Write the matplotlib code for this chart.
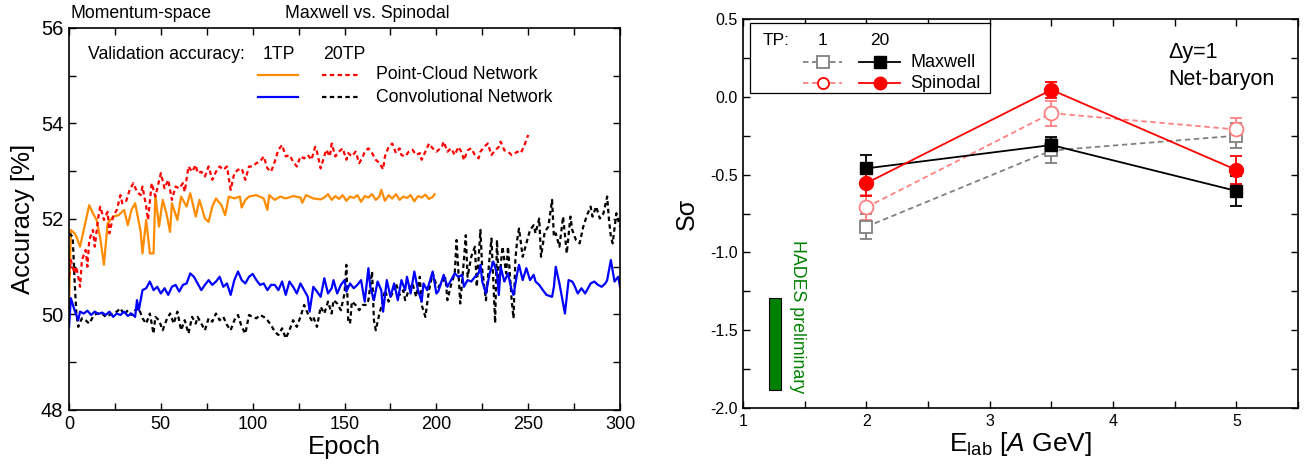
import matplotlib
matplotlib.use("Agg")
import matplotlib.pyplot as plt
from matplotlib.patches import Rectangle
from matplotlib.ticker import MultipleLocator, FormatStrFormatter

plt.rcParams["font.family"] = ["Liberation Sans", "DejaVu Sans"]
plt.rcParams["mathtext.fontset"] = "custom"
plt.rcParams["mathtext.rm"] = "Liberation Sans"
plt.rcParams["mathtext.it"] = "Liberation Sans:italic"
plt.rcParams["axes.unicode_minus"] = False

# ---- left panel: validation accuracy vs epoch, (epoch, accuracy %) ----
pc_1tp = [
    (0, 50.20), (1, 51.77), (3, 51.70), (4, 51.63), (6, 51.42), (8, 51.77),
    (11, 52.29), (13, 52.12), (15, 51.98), (17, 51.60), (19, 51.04), (21, 51.91),
    (24, 52.05), (27, 52.08), (30, 52.19), (32, 51.87), (34, 52.19), (36, 52.33),
    (39, 51.73), (40, 51.28), (42, 51.98), (44, 51.28), (46, 51.28), (47, 52.50),
    (49, 51.84), (51, 52.40), (53, 52.12), (55, 51.73), (56, 52.33), (59, 51.98),
    (61, 52.47), (64, 52.26), (66, 52.54), (69, 52.05), (71, 52.40), (74, 52.01),
    (76, 51.94), (78, 52.26), (80, 52.43), (83, 52.29), (85, 52.08), (87, 52.47),
    (90, 52.43), (93, 52.47), (94, 52.24), (96, 52.40), (98, 52.47), (102, 52.50),
    (106, 52.43), (108, 52.19), (109, 52.50), (112, 52.40), (115, 52.47),
    (118, 52.43), (122, 52.48), (126, 52.45), (127, 52.34), (129, 52.50),
    (133, 52.43), (137, 52.41), (139, 52.45), (141, 52.52), (143, 52.40),
    (145, 52.48), (147, 52.42), (149, 52.50), (151, 52.38), (153, 52.47),
    (155, 52.44), (157, 52.50), (159, 52.36), (161, 52.48), (163, 52.45),
    (165, 52.52), (167, 52.40), (169, 52.47), (170, 52.61), (172, 52.38),
    (174, 52.50), (176, 52.43), (178, 52.52), (180, 52.40), (182, 52.47),
    (184, 52.44), (186, 52.50), (188, 52.37), (190, 52.48), (192, 52.45),
    (194, 52.51), (196, 52.42), (198, 52.46), (199, 52.52),
]

pc_20tp = [
    (0, 50.80), (1, 51.14), (3, 50.86), (4, 51.00), (6, 50.58), (7, 51.14),
    (9, 51.35), (10, 51.00), (11, 51.56), (13, 51.77), (14, 51.42), (16, 52.05),
    (17, 52.26), (19, 51.98), (21, 52.15), (22, 51.70), (24, 52.05), (26, 52.19),
    (28, 52.50), (29, 52.33), (31, 52.36), (33, 52.61), (35, 52.75), (37, 52.57),
    (39, 52.50), (40, 52.68), (42, 52.26), (43, 51.98), (45, 52.75), (47, 52.47),
    (50, 52.96), (52, 52.64), (54, 52.82), (56, 52.40), (58, 52.68), (60, 52.64),
    (62, 52.75), (63, 52.57), (65, 53.10), (67, 52.99), (69, 53.13), (70, 52.96),
    (72, 52.99), (74, 52.89), (76, 53.10), (78, 52.82), (80, 52.99), (82, 53.10),
    (84, 53.03), (86, 53.10), (88, 52.61), (90, 52.96), (92, 53.03), (94, 53.06),
    (96, 52.82), (98, 53.10), (100, 53.10), (102, 53.17), (104, 53.20),
    (106, 53.31), (108, 53.06), (110, 52.99), (112, 53.20), (114, 53.45),
    (116, 53.55), (118, 53.31), (120, 53.34), (122, 53.20), (124, 53.10),
    (126, 53.31), (128, 53.27), (130, 53.34), (132, 53.24), (134, 53.51),
    (135, 53.41), (137, 53.06), (140, 53.45), (142, 53.31), (143, 53.58),
    (145, 53.31), (147, 53.41), (149, 53.48), (151, 53.24), (152, 53.38),
    (154, 53.31), (156, 53.41), (158, 53.17), (160, 53.31), (161, 53.41),
    (163, 53.48), (165, 53.38), (167, 53.24), (169, 53.17), (171, 53.04),
    (172, 53.31), (174, 53.51), (176, 53.58), (178, 53.38), (180, 53.48),
    (181, 53.34), (183, 53.31), (185, 53.41), (187, 53.45), (189, 53.34),
    (191, 53.38), (192, 53.24), (194, 53.41), (196, 53.58), (198, 53.48),
    (200, 53.41), (201, 53.44), (203, 53.51), (204, 53.62), (206, 53.41),
    (208, 53.48), (210, 53.34), (212, 53.51), (214, 53.38), (215, 53.23),
    (217, 53.44), (219, 53.48), (221, 53.34), (223, 53.27), (224, 53.41),
    (226, 53.51), (228, 53.58), (230, 53.34), (232, 53.44), (234, 53.51),
    (235, 53.62), (237, 53.44), (239, 53.41), (241, 53.34), (243, 53.38),
    (244, 53.41), (246, 53.38), (248, 53.55), (250, 53.76),
]

cnn_1tp = [
    (0, 49.74), (1, 50.34), (3, 50.09), (5, 49.88), (6, 50.06), (8, 50.02),
    (10, 50.08), (12, 49.99), (14, 50.06), (16, 50.01), (18, 50.04), (20, 49.99),
    (22, 50.06), (24, 49.95), (26, 50.02), (28, 49.99), (30, 50.06), (32, 49.97),
    (34, 50.02), (36, 49.95), (37, 50.30), (38, 50.09), (40, 50.51), (42, 50.55),
    (44, 50.69), (46, 50.51), (48, 50.58), (50, 50.44), (52, 50.55), (54, 50.41),
    (56, 50.58), (58, 50.62), (60, 50.48), (62, 50.62), (64, 50.65), (66, 50.86),
    (68, 50.79), (70, 50.65), (72, 50.51), (74, 50.62), (76, 50.72), (78, 50.62),
    (80, 50.69), (82, 50.79), (84, 50.58), (86, 50.65), (88, 50.41), (90, 50.72),
    (92, 50.90), (94, 50.72), (96, 50.65), (98, 50.79), (100, 50.85), (102, 50.72),
    (104, 50.62), (106, 50.65), (108, 50.51), (110, 50.62), (112, 50.62),
    (114, 50.51), (116, 50.69), (118, 50.41), (120, 50.69), (122, 50.58),
    (124, 50.44), (126, 50.65), (128, 50.51), (130, 50.37), (131, 50.06),
    (133, 50.58), (135, 50.48), (137, 50.37), (139, 50.76), (141, 50.44),
    (143, 50.55), (144, 50.72), (146, 50.44), (148, 50.62), (150, 50.72),
    (151, 50.48), (153, 50.65), (155, 50.55), (157, 50.62), (159, 50.72),
    (161, 50.27), (163, 50.97), (164, 50.58), (166, 50.30), (168, 50.69),
    (170, 50.51), (171, 50.06), (173, 50.72), (175, 50.37), (177, 50.65),
    (179, 50.30), (181, 50.72), (183, 50.51), (184, 50.79), (186, 50.44),
    (188, 50.90), (190, 50.51), (192, 50.27), (193, 50.65), (195, 50.51),
    (198, 50.90), (200, 50.44), (201, 50.48), (204, 50.83), (206, 50.58),
    (208, 50.72), (210, 50.86), (212, 50.79), (214, 50.83), (215, 50.58),
    (217, 50.72), (219, 50.69), (221, 50.79), (223, 50.86), (224, 51.04),
    (225, 50.69), (227, 50.44), (229, 50.86), (231, 51.11), (233, 50.86),
    (234, 50.41), (235, 51.00), (237, 50.69), (239, 50.86), (241, 50.51),
    (242, 50.41), (244, 50.86), (245, 51.04), (247, 50.72), (249, 50.97),
    (251, 50.72), (253, 50.83), (254, 50.69), (256, 50.62), (258, 50.51),
    (260, 50.41), (263, 50.37), (264, 50.58), (265, 51.00), (267, 50.65),
    (270, 50.02), (272, 50.72), (274, 50.69), (275, 50.62), (277, 50.44),
    (279, 50.55), (281, 50.44), (283, 50.58), (284, 50.65), (286, 50.69),
    (288, 50.62), (290, 50.58), (292, 50.65), (293, 50.72), (295, 51.14),
    (297, 50.69), (299, 50.79), (300, 50.58),
]

cnn_20tp = [
    (0, 51.70), (2, 51.63), (3, 50.72), (4, 50.02), (5, 49.74), (7, 49.92),
    (9, 49.88), (11, 49.81), (13, 49.95), (15, 50.02), (18, 50.02), (20, 49.95),
    (22, 49.99), (24, 50.02), (26, 50.06), (28, 50.13), (30, 49.99), (32, 50.09),
    (34, 49.99), (36, 50.09), (38, 50.13), (40, 49.92), (42, 49.81), (44, 50.02),
    (46, 49.60), (47, 49.95), (49, 49.88), (51, 49.67), (53, 49.88), (55, 50.02),
    (57, 49.81), (59, 50.06), (61, 49.67), (63, 49.88), (65, 49.60), (67, 49.95),
    (69, 49.81), (70, 49.95), (72, 49.81), (74, 49.67), (76, 49.92), (78, 49.85),
    (80, 50.02), (82, 49.88), (84, 49.95), (86, 49.78), (88, 49.67), (90, 49.88),
    (92, 49.99), (94, 49.74), (96, 49.60), (98, 49.99), (100, 49.95), (102, 49.92),
    (104, 49.99), (106, 49.95), (108, 49.88), (110, 49.78), (112, 49.64),
    (114, 49.57), (116, 49.71), (118, 49.50), (120, 49.67), (122, 49.88),
    (124, 49.74), (126, 49.95), (128, 50.20), (130, 50.02), (132, 49.88),
    (133, 49.95), (135, 49.74), (137, 50.16), (139, 50.02), (141, 50.27),
    (143, 50.02), (144, 50.30), (146, 50.23), (148, 50.09), (150, 50.44),
    (151, 51.04), (152, 49.88), (153, 49.81), (154, 50.27), (156, 50.20),
    (158, 50.09), (160, 50.20), (162, 50.20), (163, 50.30), (165, 50.90),
    (166, 49.88), (167, 49.67), (169, 50.02), (171, 50.30), (172, 50.51),
    (174, 50.27), (176, 50.44), (178, 50.65), (180, 50.41), (182, 50.51),
    (183, 50.30), (185, 50.51), (187, 50.65), (189, 50.37), (191, 50.79),
    (192, 50.20), (194, 49.95), (196, 50.51), (198, 50.86), (200, 50.62),
    (201, 50.58), (203, 50.65), (205, 50.76), (206, 50.30), (208, 50.62),
    (210, 50.86), (211, 51.56), (213, 50.23), (215, 51.14), (216, 51.66),
    (217, 50.79), (219, 51.21), (221, 51.42), (222, 50.58), (224, 51.77),
    (225, 50.93), (227, 50.30), (229, 51.21), (230, 51.59), (232, 49.82),
    (233, 51.56), (234, 50.58), (236, 51.42), (238, 50.86), (239, 51.42),
    (241, 50.30), (242, 49.92), (243, 51.14), (244, 51.56), (245, 51.80),
    (247, 51.21), (249, 51.49), (251, 51.77), (253, 51.87), (254, 51.70),
    (256, 52.01), (257, 51.21), (259, 51.73), (261, 51.84), (263, 52.40),
    (264, 51.63), (265, 51.70), (267, 51.42), (269, 52.05), (271, 51.28),
    (273, 52.05), (274, 51.77), (276, 51.56), (278, 51.49), (280, 51.84),
    (282, 52.08), (284, 52.26), (285, 52.05), (287, 52.26), (289, 52.01),
    (291, 52.12), (293, 52.47), (294, 51.98), (295, 51.63), (296, 51.49),
    (298, 52.12), (299, 51.98), (300, 51.84),
]

# ---- right panel: S*sigma vs beam energy ----
e_lab = [2.0, 3.5, 5.0]
maxwell_20 = [-0.46, -0.31, -0.605]
maxwell_20_err = [0.085, 0.05, 0.095]
spinodal_20 = [-0.555, 0.045, -0.47]
spinodal_20_err = [0.085, 0.05, 0.09]
maxwell_1 = [-0.835, -0.345, -0.25]
maxwell_1_err = [0.08, 0.08, 0.08]
spinodal_1 = [-0.71, -0.105, -0.21]
spinodal_1_err = [0.08, 0.08, 0.075]
hades_x = (1.21, 1.31)
hades_y = (-1.885, -1.29)

ORANGE = "#ff8c00"
PINK = "#ff8080"
GREEN = "#008000"

fig = plt.figure(figsize=(13.1, 4.65), dpi=100)
ax1 = fig.add_axes([0.0527, 0.1183, 0.4206, 0.8215])
ax2 = fig.add_axes([0.5672, 0.1226, 0.4237, 0.8365])


def split(series):
    return [p[0] for p in series], [p[1] for p in series]


dash = (0, (2.0, 1.5))
for data, color, ls in [
    (pc_1tp, ORANGE, "-"),
    (cnn_20tp, "black", dash),
    (cnn_1tp, "blue", "-"),
    (pc_20tp, "red", dash),
]:
    x, y = split(data)
    ax1.plot(x, y, color=color, lw=1.6, linestyle=ls)

ax1.set_xlim(0, 300)
ax1.set_ylim(48, 56)
ax1.xaxis.set_major_locator(MultipleLocator(50))
ax1.xaxis.set_minor_locator(MultipleLocator(25))
ax1.yaxis.set_major_locator(MultipleLocator(2))
ax1.yaxis.set_minor_locator(MultipleLocator(1))
ax1.set_xlabel("Epoch", fontsize=18.5, labelpad=2)
ax1.set_ylabel("Accuracy [%]", fontsize=18.5, labelpad=4)

# manual legend of left panel
tr = ax1.transAxes
fs = 12.7
ax1.text(0.0345, 0.93, "Validation accuracy:", transform=tr, fontsize=fs, va="center")
ax1.text(0.352, 0.93, "1TP", transform=tr, fontsize=fs, va="center")
ax1.text(0.461, 0.93, "20TP", transform=tr, fontsize=fs, va="center")
ax1.plot([0.343, 0.416], [0.877, 0.877], transform=tr, color=ORANGE, lw=1.6)
ax1.plot([0.459, 0.526], [0.877, 0.877], transform=tr, color="red", lw=1.6, linestyle=dash)
ax1.plot([0.343, 0.416], [0.819, 0.819], transform=tr, color="blue", lw=1.6)
ax1.plot([0.459, 0.526], [0.819, 0.819], transform=tr, color="black", lw=1.6, linestyle=dash)
ax1.text(0.557, 0.877, "Point-Cloud Network", transform=tr, fontsize=fs, va="center")
ax1.text(0.557, 0.819, "Convolutional Network", transform=tr, fontsize=fs, va="center")
ax1.text(0.002, 1.037, "Momentum-space", transform=tr, fontsize=fs, va="center")
ax1.text(0.392, 1.037, "Maxwell vs. Spinodal", transform=tr, fontsize=fs, va="center")

# right panel
ax2.errorbar(e_lab, maxwell_1, yerr=maxwell_1_err, color="gray", lw=1.3,
             linestyle=(0, (3, 2)), marker="s", ms=9, mfc="white", mec="gray",
             mew=1.3, capsize=4.5, elinewidth=1.3, capthick=1.3)
ax2.errorbar(e_lab, spinodal_1, yerr=spinodal_1_err, color=PINK, lw=1.3,
             linestyle=(0, (3, 2)), marker="o", ms=10, mfc="white", mec=PINK,
             mew=1.3, capsize=4.5, elinewidth=1.3, capthick=1.3)
ax2.errorbar(e_lab, maxwell_20, yerr=maxwell_20_err, color="black", lw=1.3,
             marker="s", ms=9, capsize=4.5, elinewidth=1.3, capthick=1.3)
ax2.errorbar(e_lab, spinodal_20, yerr=spinodal_20_err, color="red", lw=1.3,
             marker="o", ms=10, capsize=4.5, elinewidth=1.3, capthick=1.3)

ax2.add_patch(Rectangle((hades_x[0], hades_y[0]), hades_x[1] - hades_x[0],
                        hades_y[1] - hades_y[0], facecolor=GREEN,
                        edgecolor="black", lw=0.8))
ax2.text(1.44, -0.92, "HADES preliminary", color=GREEN, fontsize=12.8,
         rotation=-90, ha="center", va="top")

ax2.set_xlim(1, 5.5)
ax2.set_ylim(-2.0, 0.5)
ax2.xaxis.set_major_locator(MultipleLocator(1))
ax2.xaxis.set_minor_locator(MultipleLocator(0.5))
ax2.yaxis.set_major_locator(MultipleLocator(0.5))
ax2.yaxis.set_minor_locator(MultipleLocator(0.25))
ax2.yaxis.set_major_formatter(FormatStrFormatter("%.1f"))
ax2.set_xlabel(r"E$_{\mathrm{lab}}$ [$\mathit{A}$ GeV]", fontsize=19, labelpad=1)
ax2.set_ylabel("Sσ", fontsize=18, labelpad=8)

tr2 = ax2.transAxes
ax2.add_patch(Rectangle((0.0126, 0.81), 0.4324, 0.18, transform=tr2,
                        facecolor="white", edgecolor="black", lw=0.9, zorder=5))
ax2.text(0.036, 0.946, "TP:", transform=tr2, fontsize=12.5, va="center", zorder=6)
ax2.text(0.144, 0.946, "1", transform=tr2, fontsize=12.5, va="center", ha="center", zorder=6)
ax2.text(0.246, 0.946, "20", transform=tr2, fontsize=12.5, va="center", ha="center", zorder=6)
rows = [
    (0.889, "gray", "s", "black", "Maxwell"),
    (0.835, PINK, "o", "red", "Spinodal"),
]
for yy, c1, mk, c20, name in rows:
    ax2.plot([0.108, 0.178], [yy, yy], transform=tr2, color=c1, lw=1.3,
             linestyle=(0, (3, 2)), zorder=6)
    ax2.plot([0.144], [yy], transform=tr2, marker=mk, ms=8, mfc="white",
             mec=c1 if mk == "s" else "red", mew=1.3, zorder=7)
    ax2.plot([0.209, 0.283], [yy, yy], transform=tr2, color=c20, lw=1.3, zorder=6)
    ax2.plot([0.246], [yy], transform=tr2, marker=mk, ms=9, color=c20, zorder=7)
    ax2.text(0.301, yy, name, transform=tr2, fontsize=13, va="center", zorder=6)

ax2.text(0.766, 0.915, "Δy=1", transform=tr2, fontsize=15.5, va="center")
ax2.text(0.766, 0.845, "Net-baryon", transform=tr2, fontsize=15.5, va="center")

for ax, xs, ys in [(ax1, 13, 14.5), (ax2, 11.5, 11.5)]:
    ax.tick_params(which="both", direction="in", top=True, right=True,
                   length=5, width=1.0, pad=4)
    ax.tick_params(axis="x", labelsize=xs)
    ax.tick_params(axis="y", labelsize=ys)
    for s in ax.spines.values():
        s.set_linewidth(1.2)

fig.savefig("out.png", dpi=100)
